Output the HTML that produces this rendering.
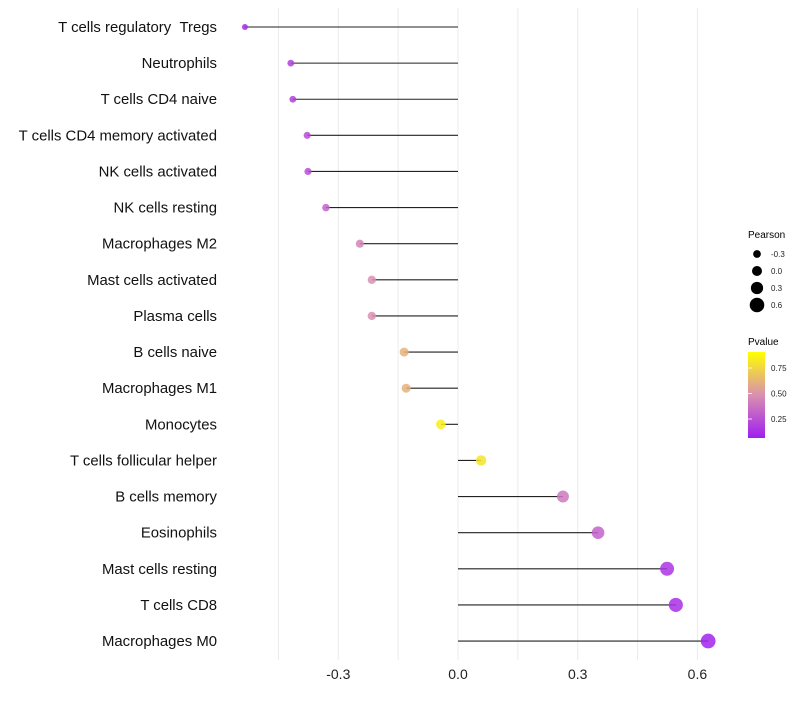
<!DOCTYPE html>
<html><head><meta charset="utf-8"><style>
body{margin:0;background:#fff;font-family:"Liberation Sans",sans-serif;}
</style></head><body>
<svg id="chart" width="800" height="700" xmlns="http://www.w3.org/2000/svg" font-family="Liberation Sans, sans-serif">
<g id="grid"></g>
<g id="marks"></g>
<g id="labels"></g>
<g id="xticks"></g>
<g id="legend">
<text x="748" y="238" font-size="10">Pearson</text>
<text x="748" y="345" font-size="10">Pvalue</text>
<defs><linearGradient id="cg" x1="0" y1="1" x2="0" y2="0">
<stop offset="0" stop-color="#a01ef0"/><stop offset="0.5" stop-color="#d990b0"/><stop offset="1" stop-color="#ffff00"/>
</linearGradient></defs>
<rect x="748" y="352" width="17" height="86" fill="url(#cg)"/>
</g>
<script>
const categories=["T cells regulatory\u00a0\u00a0Tregs","Neutrophils","T cells CD4 naive","T cells CD4 memory activated","NK cells activated","NK cells resting","Macrophages M2","Mast cells activated","Plasma cells","B cells naive","Macrophages M1","Monocytes","T cells follicular helper","B cells memory","Eosinophils","Mast cells resting","T cells CD8","Macrophages M0"];
const pearson=[-0.534,-0.419,-0.414,-0.378,-0.376,-0.331,-0.246,-0.216,-0.216,-0.135,-0.130,-0.043,0.058,0.263,0.351,0.524,0.546,0.627];
const pvalues=[0.05,0.15,0.15,0.2,0.2,0.3,0.45,0.5,0.5,0.65,0.65,0.92,0.88,0.4,0.3,0.1,0.08,0.02];
const xTicks=[-0.3,0,0.3,0.6];
const xTickLabels=["-0.3","0.0","0.3","0.6"];
const sizeLegend=[-0.3,0,0.3,0.6];
const sizeLegendLabels=["-0.3","0.0","0.3","0.6"];
const pvalTicks=[0.25,0.5,0.75];
const pvalTickLabels=["0.25","0.50","0.75"];

const NS="http://www.w3.org/2000/svg";
const x=v=>458+v*399;
const y=i=>27+i*36.12;
const r=v=>Math.max(2,5+3.8*v);
function lerp(a,b,t){return a.map((c,k)=>Math.round(c+(b[k]-c)*t));}
function col(p){const c0=[160,30,240],c1=[217,144,176],c2=[255,255,0];
 const rgb=p<0.5?lerp(c0,c1,p/0.5):lerp(c1,c2,(p-0.5)/0.5);return`rgb(${rgb.join(",")})`;}
function mk(tag,at,parent){const e=document.createElementNS(NS,tag);for(const k in at)e.setAttribute(k,at[k]);parent.appendChild(e);return e;}
const G=document.getElementById("grid"),M=document.getElementById("marks"),L=document.getElementById("labels"),X=document.getElementById("xticks"),LG=document.getElementById("legend");
for(let k=-3;k<=4;k++){
 const v=k*0.15;
 const gl=mk("line",{x1:x(v),x2:x(v),y1:8,y2:660,stroke:"#ebebeb","stroke-width":1},G);
 
 
}
xTicks.forEach((v,i)=>{
 const t=mk("text",{x:x(v),y:679,"font-size":14,"text-anchor":"middle",fill:"#222"},X);t.textContent=xTickLabels[i];
 
 
});
categories.forEach((c,i)=>{
 const t=mk("text",{x:217,y:y(i)+5,"font-size":14.9,"text-anchor":"end",fill:"#111"},L);t.textContent=c;
 
 
 const s=mk("line",{x1:x(0),x2:x(pearson[i]),y1:y(i),y2:y(i),stroke:"#222","stroke-width":1.1},M);
 
 
 const p=mk("circle",{cx:x(pearson[i]),cy:y(i),r:r(pearson[i]),fill:col(pvalues[i]),"fill-opacity":0.85},M);
 
 
});
sizeLegend.forEach((v,i)=>{
 const cy=254+i*17;
 const c=mk("circle",{cx:757,cy:cy,r:r(v),fill:"#000"},LG);
 
 
 const t=mk("text",{x:771,y:cy+3,"font-size":8,fill:"#222"},LG);t.textContent=sizeLegendLabels[i];
 
 
});
pvalTicks.forEach((p,i)=>{
 const cy=438-(p-0.064)/(0.907-0.064)*86;
 const t=mk("text",{x:771,y:cy+3,"font-size":8,fill:"#222"},LG);t.textContent=pvalTickLabels[i];
 
 
 const tk=mk("line",{x1:748,x2:752,y1:cy,y2:cy,stroke:"#fff","stroke-width":0.8},LG);
 
 
});
</script>
</svg>
</body></html>
